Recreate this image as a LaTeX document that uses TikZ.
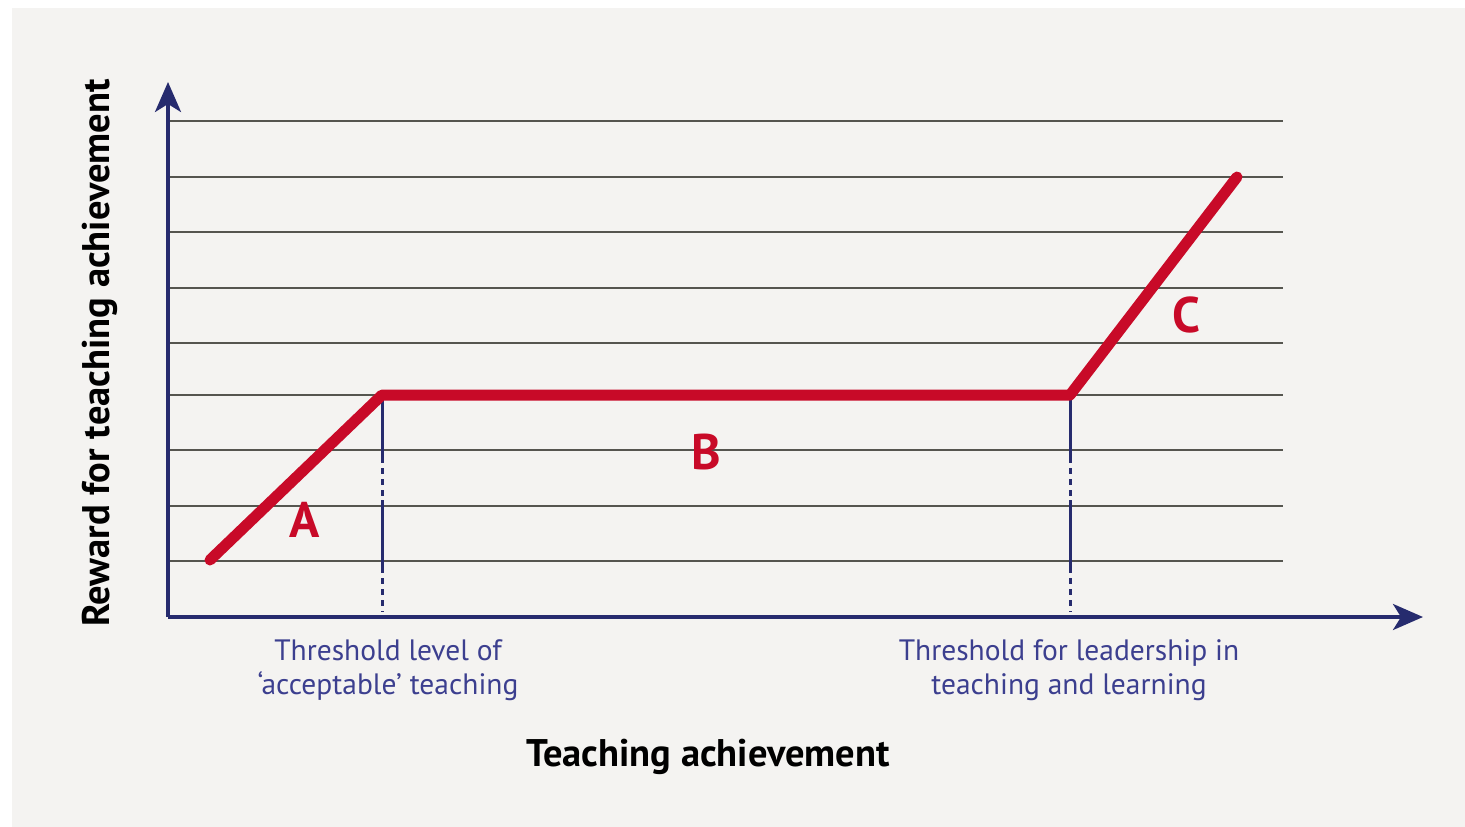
\documentclass[tikz,border=0pt]{standalone}
\usepackage{fontspec}
\setmainfont{PT Sans}
\usetikzlibrary{arrows.meta}
\definecolor{panel}{HTML}{F4F3F1}
\definecolor{navy}{HTML}{262B6E}
\definecolor{gridc}{HTML}{55554F}
\definecolor{redc}{HTML}{C80A28}
\definecolor{labblue}{HTML}{3C3F8F}
\tikzset{
  gridline/.style={draw=gridc, line width=2.8pt},
  axisline/.style={draw=navy, line width=3.6pt, -{Stealth[length=30pt,width=26pt,inset=8pt]}},
  thresh/.style={draw=navy, line width=3pt},
  threshdot/.style={draw=navy, line width=3pt, dash pattern=on 6pt off 5pt},
  curve/.style={draw=redc, line width=11pt, line cap=round, line join=round},
  seglabel/.style={text=redc, font=\fontsize{50}{50}\selectfont\bfseries},
  threshlabel/.style={text=labblue, font=\fontsize{29.5}{34}\selectfont, align=center},
  axislabel/.style={text=black, font=\fontsize{38.5}{38.5}\selectfont\bfseries}
}
\begin{document}
\begin{tikzpicture}[x=1pt,y=-1pt]
\useasboundingbox (0,0) rectangle (1465,827);
\fill[white] (0,0) rectangle (1465,827);
\fill[panel] (12,8) rectangle (1465,827);
% grid
\foreach \yy in {121,177,232,288,343,395,450,506,561}
  \draw[gridline] (168,\yy) -- (1283,\yy);
% thresholds
\coordinate (t1top) at (382,395);
\coordinate (t1a) at (382,457);
\coordinate (t1b) at (382,500);
\coordinate (t1c) at (382,567);
\coordinate (t1bot) at (382,612);
\coordinate (t2top) at (1070,395);
\coordinate (t2a) at (1070,457);
\coordinate (t2b) at (1070,500);
\coordinate (t2c) at (1070,567);
\coordinate (t2bot) at (1070,612);
\draw[thresh] (t1top) -- (t1a);
\draw[threshdot] (t1a) -- (t1b);
\draw[thresh] (t1b) -- (t1c);
\draw[threshdot] (t1c) -- (t1bot);
\draw[thresh] (t2top) -- (t2a);
\draw[threshdot] (t2a) -- (t2b);
\draw[thresh] (t2b) -- (t2c);
\draw[threshdot] (t2c) -- (t2bot);
% axes
\coordinate (origin) at (168,617);
\coordinate (ytip) at (168,82);
\coordinate (xtip) at (1423,617);
\draw[axisline] (origin) -- (ytip);
\draw[axisline] (origin) -- (xtip);
% red curve
\coordinate (p0) at (210,560);
\coordinate (p1) at (382,395);
\coordinate (p2) at (1070,395);
\coordinate (p3) at (1237,177);
\draw[curve] (p0) -- (p1) -- (p2) -- (p3);
% labels
\node[seglabel] (A) at (305,520) {A};
\node[seglabel] (B) at (706,452) {B};
\node[seglabel] (C) at (1186,315) {C};
\node[threshlabel] (l1) at (388,670) {Threshold level of\\`acceptable' teaching};
\node[threshlabel] (l2) at (1069,670) {Threshold for leadership in\\teaching and learning};
\node[axislabel] (xl) at (708,757) {Teaching achievement};
\node[axislabel, rotate=90] (yl) at (100,353) {Reward for teaching achievement};
\end{tikzpicture}
\end{document}
